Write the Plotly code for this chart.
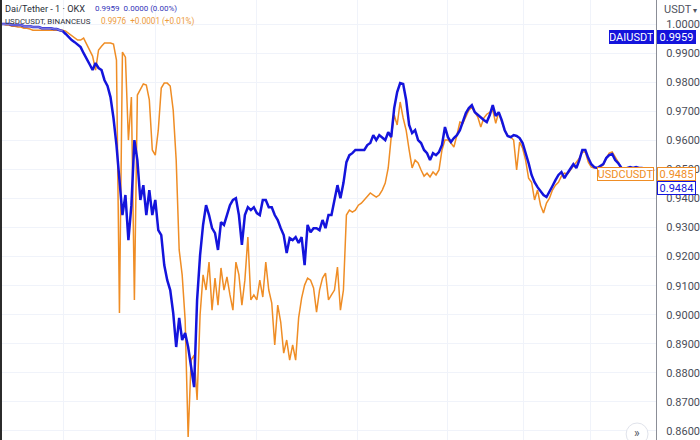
import plotly.graph_objects as go

# ---- data (prices, one sample per time step) ----
dai_usdt = [
    1.0000,1.0000,1.0000,1.0000,0.9997,0.9997,0.9997,0.9997,0.9993,0.9993,
    0.9993,0.9990,0.9990,0.9990,0.9986,0.9986,0.9986,0.9986,0.9983,0.9983,
    0.9979,0.9976,0.9966,0.9955,0.9945,0.9938,0.9931,0.9921,0.9900,0.9883,
    0.9862,0.9842,0.9866,0.9849,0.9842,0.9807,0.9787,0.9749,0.9677,0.9584,
    0.9470,0.9343,0.9412,0.9257,0.9377,0.9601,0.9532,0.9395,0.9446,0.9343,
    0.9429,0.9343,0.9395,0.9291,0.9274,0.9171,0.9119,0.9085,0.9006,0.8889,
    0.8989,0.8913,0.8937,0.8889,0.8820,0.8751,0.9051,0.9205,0.9309,0.9377,
    0.9343,0.9298,0.9281,0.9223,0.9319,0.9309,0.9343,0.9377,0.9395,0.9401,
    0.9343,0.9240,0.9343,0.9370,0.9360,0.9370,0.9350,0.9343,0.9395,0.9395,
    0.9370,0.9370,0.9343,0.9326,0.9298,0.9274,0.9212,0.9264,0.9257,0.9267,
    0.9247,0.9267,0.9171,0.9309,0.9284,0.9298,0.9298,0.9291,0.9326,0.9298,
    0.9343,0.9343,0.9395,0.9446,0.9401,0.9453,0.9525,0.9549,0.9556,0.9567,
    0.9567,0.9567,0.9567,0.9584,0.9591,0.9618,0.9601,0.9618,0.9608,0.9601,
    0.9628,0.9611,0.9711,0.9766,0.9797,0.9794,0.9739,0.9653,0.9625,0.9635,
    0.9601,0.9591,0.9567,0.9556,0.9532,0.9556,0.9549,0.9560,0.9584,0.9646,
    0.9611,0.9594,0.9608,0.9618,0.9635,0.9663,0.9694,0.9711,0.9721,0.9697,
    0.9687,0.9677,0.9670,0.9663,0.9687,0.9721,0.9684,0.9697,0.9670,0.9635,
    0.9615,0.9611,0.9618,0.9615,0.9608,0.9591,0.9560,0.9522,0.9481,0.9456,
    0.9439,0.9426,0.9412,0.9405,0.9422,0.9443,0.9463,0.9481,0.9491,0.9470,
    0.9487,0.9505,0.9518,0.9505,0.9532,0.9567,0.9567,0.9539,0.9518,0.9508,
    0.9505,0.9512,0.9518,0.9539,0.9549,0.9553,0.9532,0.9522,0.9508,0.9491,
    0.9505,0.9508,0.9505,0.9508,0.9505,0.9505,0.9501,0.9498,0.9498,0.9494,
]

usdc_usdt = [
    1.0000,1.0000,0.9997,0.9997,0.9993,0.9993,0.9990,0.9990,0.9986,0.9986,
    0.9983,0.9979,0.9979,0.9979,0.9979,0.9979,0.9979,0.9979,0.9979,0.9979,
    0.9979,0.9979,0.9976,0.9969,0.9962,0.9955,0.9945,0.9945,0.9952,0.9931,
    0.9911,0.9890,0.9842,0.9911,0.9924,0.9935,0.9935,0.9935,0.9931,0.9876,
    0.9006,0.9904,0.9886,0.9601,0.9749,0.9051,0.9756,0.9773,0.9794,0.9790,
    0.9739,0.9567,0.9549,0.9635,0.9780,0.9797,0.9797,0.9787,0.9704,0.9532,
    0.9223,0.9137,0.8982,0.8579,0.8844,0.8861,0.8707,0.8999,0.9137,0.9085,
    0.9181,0.9016,0.9126,0.9033,0.9161,0.9085,0.9130,0.9068,0.9016,0.9181,
    0.9137,0.9033,0.9119,0.9267,0.9051,0.9068,0.9051,0.9119,0.9061,0.9181,
    0.9085,0.9040,0.8896,0.9033,0.8975,0.8868,0.8913,0.8844,0.8896,0.8844,
    0.8989,0.9057,0.9102,0.9126,0.9119,0.9092,0.9009,0.9085,0.9126,0.9143,
    0.9051,0.9068,0.9085,0.9164,0.9016,0.9085,0.9343,0.9360,0.9353,0.9360,
    0.9377,0.9384,0.9395,0.9405,0.9419,0.9412,0.9405,0.9412,0.9429,0.9453,
    0.9505,0.9611,0.9687,0.9653,0.9732,0.9677,0.9635,0.9567,0.9505,0.9532,
    0.9522,0.9498,0.9477,0.9487,0.9474,0.9491,0.9481,0.9498,0.9567,0.9601,
    0.9601,0.9591,0.9577,0.9618,0.9663,0.9659,0.9684,0.9704,0.9714,0.9697,
    0.9680,0.9646,0.9677,0.9690,0.9697,0.9704,0.9659,0.9697,0.9663,0.9635,
    0.9615,0.9611,0.9601,0.9498,0.9594,0.9573,0.9532,0.9470,0.9456,0.9395,
    0.9429,0.9377,0.9350,0.9384,0.9401,0.9429,0.9446,0.9456,0.9477,0.9487,
    0.9484,0.9498,0.9508,0.9525,0.9539,0.9560,0.9560,0.9525,0.9508,0.9505,
    0.9505,0.9508,0.9515,0.9539,0.9556,0.9560,0.9542,0.9525,0.9508,0.9498,
    0.9491,0.9487,0.9487,0.9487,0.9487,0.9484,0.9484,0.9484,0.9484,0.9485,
]

dai_okx = [
    1.0000,1.0000,1.0000,1.0000,0.9997,0.9997,0.9997,0.9997,0.9993,0.9993,
    0.9993,0.9990,0.9990,0.9990,0.9986,0.9986,0.9986,0.9986,0.9983,0.9983,
    0.9979,0.9976,
]

y_ticks = [round(0.86 + 0.01 * k, 2) for k in range(15)]
x_grid = [21.3, 52, 86, 119.7, 149.7, 175.3, 197.7]

BLUE = "#1414dc"
ORANGE = "#ef8d25"
PURPLE = "#7a74dc"
FONT = "Roboto"

fig = go.Figure()
fig.add_trace(go.Scatter(x=list(range(len(usdc_usdt))), y=usdc_usdt, mode="lines",
                         line=dict(color=ORANGE, width=1.5), name="USDCUSDT"))
fig.add_trace(go.Scatter(x=list(range(len(dai_usdt))), y=dai_usdt, mode="lines",
                         line=dict(color=BLUE, width=2.5), name="DAIUSDT"))
fig.add_trace(go.Scatter(x=list(range(len(dai_okx))), y=dai_okx, mode="lines",
                         line=dict(color=PURPLE, width=1.6), name="Dai/Tether"))

W, H = 700, 440
PW = 659.0

def px(x):
    return x / PW

def py(y):
    return 1 - y / H

def txt(x, y, text, size, color, anchor="left"):
    return dict(x=px(x), y=py(y), xref="paper", yref="paper", xanchor=anchor, yanchor="middle",
                showarrow=False, text=text, font=dict(family=FONT, size=size, color=color))

ann = []
# top-left legend
ann.append(txt(3, 8, "Dai/Tether - 1 · OKX", 9.2, "#2a2e39"))
ann.append(txt(93, 8, "0.9959&nbsp;&nbsp;0.0000 (0.00%)", 8.0, "#3434b8"))
ann.append(txt(3, 21, "USDCUSDT, BINANCEUS", 7.9, "#2a2e39"))
ann.append(txt(99, 21, "0.9976&nbsp;&nbsp;+0.0001 (+0.01%)", 8.2, "#ec9a3c"))
# axis currency
ann.append(txt(665, 9, "USDT<span style='font-size:8px'> ▾</span>", 11, "#50535e"))

# price labels
def box(cx, cy, w, text, fg, bg, border):
    return dict(x=px(cx), y=py(cy), xref="paper", yref="paper", xanchor="center", yanchor="middle",
                showarrow=False, text=text, width=w, height=12, borderpad=0,
                font=dict(family=FONT, size=11, color=fg), bgcolor=bg,
                bordercolor=border, borderwidth=1)

ann.append(box(634.5, 37, 43, "DAIUSDT", "white", BLUE, BLUE))
ann.append(box(680, 37, 37, "0.9959", "white", BLUE, BLUE))
ann.append(box(628.5, 174, 55, "USDCUSDT", ORANGE, "white", ORANGE))
ann.append(box(680, 174, 37, "0.9485", ORANGE, "white", ORANGE))
ann.append(box(680, 187.5, 37, "0.9484", BLUE, "white", BLUE))
# scroll button
ann.append(txt(640, 433, "»", 12, "#50535e", anchor="center"))

shapes = [
    dict(type="circle", xref="paper", yref="paper", x0=px(629), x1=px(651), y0=py(445), y1=py(423),
         line=dict(color="#e0e3eb", width=1), fillcolor="white", layer="above"),
    dict(type="rect", xref="paper", yref="paper", x0=0, x1=px(2), y0=0, y1=1,
         line=dict(width=0), fillcolor="#2a2a2a", layer="above"),
]

fig.update_layout(
    width=W, height=H,
    margin=dict(l=0, r=W - PW, t=0, b=0),
    paper_bgcolor="white", plot_bgcolor="white",
    showlegend=False,
    annotations=ann, shapes=shapes,
    xaxis=dict(range=[0, PW / 3], tickvals=x_grid, showticklabels=False, ticks="",
               showgrid=True, gridcolor="#f0f3fa", gridwidth=1, zeroline=False, showline=False),
    yaxis=dict(side="right", range=[0.8569, 1.0083], tickvals=y_ticks, tickformat=".4f",
               showgrid=True, gridcolor="#f0f3fa", gridwidth=1, zeroline=False,
               showline=True, linecolor="#8b8e97", linewidth=1, ticks="",
               ticklabelstandoff=7,
               tickfont=dict(family=FONT, size=11, color="#4a4d57")),
)

fig.write_html("out.html", config={"displayModeBar": False},
               post_script="document.body.style.margin='0';document.body.style.overflow='hidden';")
